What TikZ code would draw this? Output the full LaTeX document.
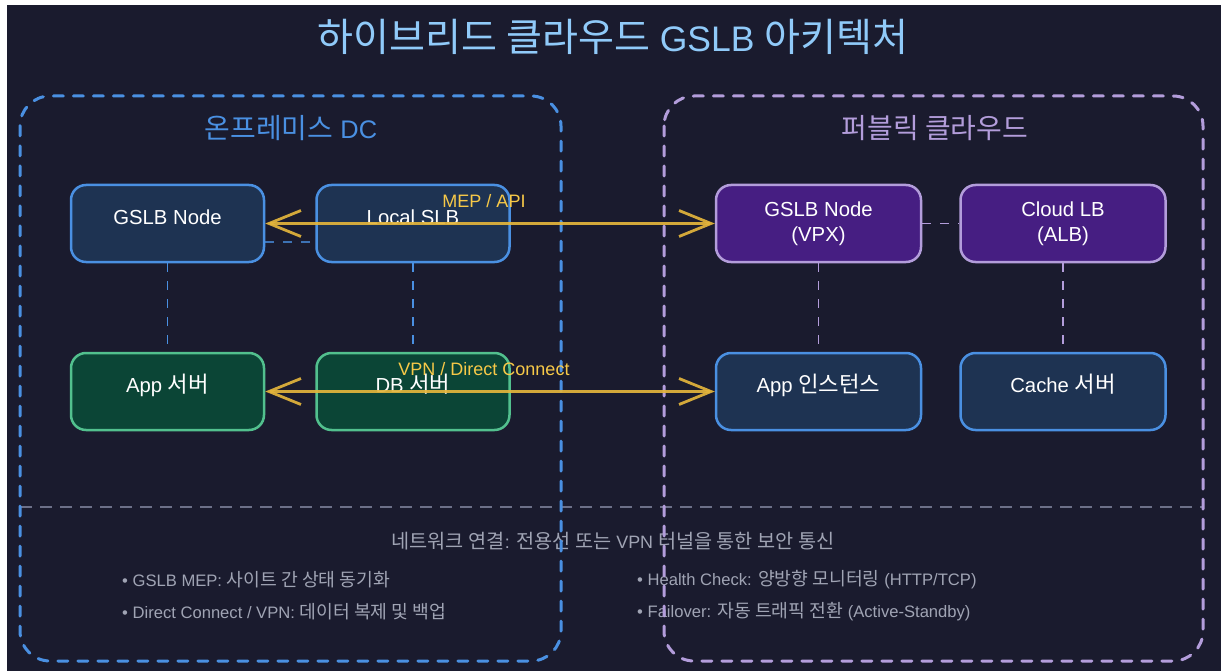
\documentclass[tikz,border=0pt]{standalone}
\usepackage{fontspec}
\setmainfont{Liberation Sans}
\newfontfamily\kr[Scale=1.1]{Noto Sans CJK KR}
\usetikzlibrary{arrows.meta}

\definecolor{bg}{HTML}{1A1B2E}
\definecolor{titleblue}{HTML}{90CAF9}
\definecolor{onprem}{HTML}{4A90E2}
\definecolor{cloud}{HTML}{B39DDB}
\definecolor{navyfill}{HTML}{1E3352}
\definecolor{greenfill}{HTML}{0B4536}
\definecolor{greenline}{HTML}{52C08E}
\definecolor{purplefill}{HTML}{461E82}
\definecolor{gold}{HTML}{E3B53C}
\definecolor{goldtext}{HTML}{F7C948}
\definecolor{sepgray}{HTML}{6C7088}
\definecolor{notegray}{HTML}{A0A4B4}

\tikzset{
  box/.style={draw, line width=2.5pt, rounded corners=15pt, text=white,
    font=\fontsize{20.3}{24}\selectfont, align=center, inner sep=0pt},
  onebox/.style={box, text height=10pt, text depth=7.6pt},
  lanbox/.style={fill=navyfill, draw=onprem},
  srvbox/.style={fill=greenfill, draw=greenline},
  vpcbox/.style={fill=purplefill, draw=cloud},
  narrow/.style={minimum width=193pt, minimum height=77pt},
  wide/.style={minimum width=205pt, minimum height=77pt},
  zone/.style={line width=3pt, dash pattern=on 10pt off 10pt, line cap=round, rounded corners=30pt},
  link/.style={line width=1.8pt, dash pattern=on 9pt off 9pt},
  sync/.style={draw=gold, line width=2.8pt, opacity=0.92,
    {Straight Barb[length=32pt,width=26pt]}-{Straight Barb[length=32pt,width=26pt]}},
  synclabel/.style={text=goldtext, font=\fontsize{18}{21}\selectfont, inner sep=0pt},
  note/.style={text=notegray, font=\fontsize{16.6}{20}\selectfont, inner sep=0pt, anchor=west}
}

\begin{document}
\begin{tikzpicture}[x=1pt, y=-1pt]
\useasboundingbox (0,0) rectangle (1221,671);
\fill[white] (0,0) rectangle (1221,671);
\fill[bg] (7,5) rectangle (1221,671);

% title
\node[text=titleblue, font=\fontsize{35.5}{42}\selectfont, inner sep=0pt] (title) at (613,37)
  {{\kr 하이브리드 클라우드} GSLB {\kr 아키텍처}};

% separator and notes
\coordinate (sepL) at (20,507);
\coordinate (sepR) at (1203,507);
\draw[sepgray, line width=2pt, dash pattern=on 12pt off 8pt] (sepL) -- (sepR);

\node[text=notegray, font=\fontsize{17.9}{21}\selectfont, inner sep=0pt] (net) at (613,541)
  {{\kr 네트워크 연결}: {\kr 전용선 또는} VPN {\kr 터널을 통한 보안 통신}};
\node[note] (n1) at (122,580) {• GSLB MEP: {\kr 사이트 간 상태 동기화}};
\node[note] (n2) at (122,612) {• Direct Connect / VPN: {\kr 데이터 복제 및 백업}};
\node[note] (n3) at (637,580) {• Health Check: {\kr 양방향 모니터링} (HTTP/TCP)};
\node[note] (n4) at (637,612) {• Failover: {\kr 자동 트래픽 전환} (Active-Standby)};

% zones
\draw[zone, onprem] (20,96) rectangle (561,661);
\draw[zone, cloud] (664,96) rectangle (1203,661);
\node[text=onprem, font=\fontsize{25.4}{30}\selectfont, inner sep=0pt] (zoneL) at (291,128) {{\kr 온프레미스} DC};
\node[text=cloud, font=\fontsize{25.4}{30}\selectfont, inner sep=0pt] (zoneR) at (935,128) {{\kr 퍼블릭 클라우드}};

% on-premises nodes
\node[onebox, lanbox, narrow] (gslb) at (167.5,223.5) {GSLB Node};
\node[onebox, lanbox, narrow] (slb) at (413,223.5) {Local SLB};
\node[onebox, srvbox, narrow] (app) at (167.5,391.5) {App {\kr 서버}};
\node[onebox, srvbox, narrow] (db) at (413,391.5) {DB {\kr 서버}};

% cloud nodes
\node[box, vpcbox, wide] (vpx) at (818.5,223.5) {GSLB Node\\[1pt](VPX)};
\node[box, vpcbox, wide] (clb) at (1063,223.5) {Cloud LB\\[1pt](ALB)};
\node[onebox, lanbox, wide] (inst) at (818.5,391.5) {App {\kr 인스턴스}};
\node[onebox, lanbox, wide] (cache) at (1063,391.5) {Cache {\kr 서버}};

% local links
\draw[link, onprem, opacity=0.75] ([yshift=-18.5pt]gslb.east) -- ([yshift=-18.5pt]slb.west);
\draw[link, onprem] (gslb.south) -- (app.north);
\draw[link, onprem] (slb.south) -- (db.north);
\draw[link, cloud] (vpx.east) -- (clb.west);
\draw[link, cloud] (vpx.south) -- (inst.north);
\draw[link, cloud] (clb.south) -- (cache.north);

% inter-site links
\draw[sync] (gslb.east) -- (vpx.west);
\draw[sync] (app.east) -- (inst.west);
\node[synclabel] (mep) at (484,201) {MEP / API};
\node[synclabel] (vpn) at (484,369) {VPN / Direct Connect};
\end{tikzpicture}
\end{document}
